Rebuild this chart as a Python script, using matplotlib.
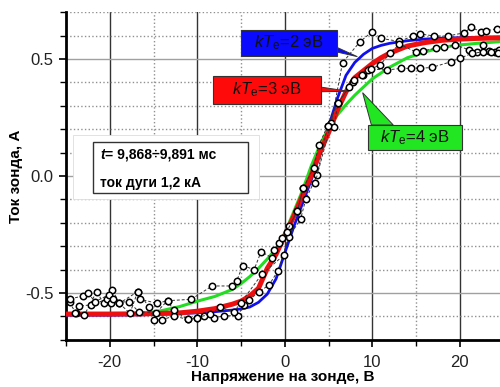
import matplotlib
matplotlib.use("Agg")
import matplotlib.pyplot as plt
from matplotlib.patches import Rectangle, Polygon
from matplotlib.ticker import MultipleLocator, FixedLocator

plt.rcParams["font.family"] = ["Liberation Sans", "DejaVu Sans"]
plt.rcParams["axes.unicode_minus"] = False
plt.rcParams["mathtext.fontset"] = "custom"
plt.rcParams["mathtext.rm"] = "Liberation Sans"
plt.rcParams["mathtext.it"] = "Liberation Sans:italic"

# model curves
x_fit = [-25, -20, -16, -14, -12, -10, -8, -6, -5, -4, -3, -2, -1, 0, 1, 2, 3, 4,
         5, 6, 7, 8, 9, 10, 11, 12, 14, 16, 18, 20, 22, 24.6]
y_kt2 = [-0.595, -0.595, -0.593, -0.591, -0.588, -0.585, -0.58, -0.573, -0.568, -0.56,
         -0.54, -0.505, -0.44, -0.33, -0.22, -0.12, -0.02, 0.09, 0.21, 0.33, 0.43, 0.485,
         0.52, 0.545, 0.558, 0.567, 0.578, 0.585, 0.589, 0.591, 0.593, 0.594]
y_kt3 = [-0.59, -0.59, -0.589, -0.587, -0.585, -0.578, -0.567, -0.548, -0.535, -0.513,
         -0.48, -0.395, -0.335, -0.255, -0.175, -0.085, 0.0, 0.1, 0.185, 0.28, 0.36, 0.42,
         0.45, 0.48, 0.505, 0.525, 0.555, 0.57, 0.58, 0.585, 0.588, 0.59]
y_kt4 = [-0.59, -0.59, -0.588, -0.575, -0.558, -0.535, -0.515, -0.485, -0.46, -0.43,
         -0.395, -0.355, -0.31, -0.245, -0.155, -0.065, 0.04, 0.13, 0.205, 0.26, 0.305,
         0.345, 0.38, 0.415, 0.44, 0.465, 0.505, 0.53, 0.55, 0.56, 0.567, 0.574]

# measured points (three sweeps)
x_a = [-24.6, -23.9, -22.9, -21.5, -20.7, -19.7, -18.9, -17.7, -16.8, -15.5, -14.9, -14.0,
       -12.7, -11.1, -10.0, -9.2, -8.1, -6.9, -5.4, -4.65, -4.1, -2.9, -1.8, -0.77, 0.5,
       1.8, 2.4, 3.7, 5.3, 6.6, 8.6, 10.0, 11.0, 13.1, 14.6, 15.5, 17.1, 18.6, 20.5, 21.3,
       22.4, 23.0, 24.3]
y_a = [-0.54, -0.584, -0.594, -0.494, -0.544, -0.487, -0.544, -0.587, -0.494, -0.56,
       -0.615, -0.615, -0.598, -0.613, -0.605, -0.60, -0.607, -0.597, -0.598, -0.551,
       -0.53, -0.494, -0.466, -0.405, -0.259, -0.185, -0.10, 0.004, 0.225, 0.484, 0.574,
       0.617, 0.588, 0.575, 0.598, 0.607, 0.598, 0.598, 0.612, 0.635, 0.617, 0.62, 0.63]

x_b = [-24.0, -23.5, -22.2, -20.3, -19.9, -17.8, -16.7, -14.7, -13.4, -12.7, -11.1, -10.0,
       -8.5, -7.4, -5.8, -5.0, -2.6, -0.08, 0.5, 1.45, 2.1, 3.5, 4.9, 5.6, 6.1, 7.85, 8.9,
       9.5, 10.9, 12.0, 13.1, 15.0, 15.8, 17.3, 18.2, 19.5, 21.0, 22.0, 22.6, 23.3, 24.0,
       24.5]
y_b = [-0.584, -0.556, -0.551, -0.527, -0.541, -0.537, -0.58, -0.584, -0.533, -0.573,
       -0.613, -0.605, -0.59, -0.561, -0.58, -0.541, -0.419, -0.338, -0.214, -0.148,
       -0.053, -0.031, 0.214, 0.21, 0.313, 0.403, 0.43, 0.453, 0.474, 0.524, 0.563, 0.53,
       0.535, 0.546, 0.55, 0.56, 0.54, 0.53, 0.56, 0.535, 0.53, 0.54]

x_c = [-24.5, -23.1, -22.5, -21.7, -20.1, -19.6, -18.9, -16.8, -16.5, -14.6, -13.4,
       -10.7, -8.3, -6.0, -5.5, -4.8, -3.5, -2.7, -1.5, -1.2, -0.65, -0.26, 0.23, 1.45,
       2.1, 3.3, 3.9, 4.9, 6.1, 7.35, 7.9, 8.8, 9.8, 11.7, 13.3, 14.4, 15.5, 16.8, 19.0,
       20.0, 21.4, 22.6, 23.6, 24.4]
y_c = [-0.525, -0.513, -0.499, -0.537, -0.508, -0.527, -0.544, -0.494, -0.527, -0.544,
       -0.533, -0.527, -0.47, -0.47, -0.449, -0.383, -0.40, -0.323, -0.349, -0.316,
       -0.285, -0.266, -0.238, -0.148, -0.053, 0.035, 0.132, 0.214, 0.313, 0.38, 0.41,
       0.43, 0.457, 0.453, 0.46, 0.46, 0.46, 0.464, 0.488, 0.503, 0.524, 0.53, 0.53, 0.525]

xticks = [-20, -10, 0, 10, 20]
yticks = [-0.5, 0.0, 0.5]
ytick_labels = ["-0.5", "0.0", "0.5"]

fig = plt.figure(figsize=(5, 3.87), dpi=100)
ax = fig.add_axes([0.132, 0.122, 0.868, 0.8465])
ax.set_xlim(-25, 24.6)
ax.set_ylim(-0.7, 0.7)

ax.xaxis.set_major_locator(FixedLocator(xticks))
ax.xaxis.set_minor_locator(MultipleLocator(5))
ax.yaxis.set_major_locator(FixedLocator(yticks))
ax.yaxis.set_minor_locator(MultipleLocator(0.1))
ax.set_yticklabels(ytick_labels)
ax.tick_params(which="major", direction="out", length=5, width=1.2, labelsize=12,
               labelcolor="#222222")
ax.tick_params(which="minor", direction="out", length=4, width=1.0)
ax.tick_params(axis="x", pad=6)
ax.tick_params(axis="y", pad=4)

ax.set_axisbelow(True)
ax.grid(True, which="major", axis="x", color="#333333", lw=1.0, ls="-")
ax.grid(True, which="major", axis="y", color="#a0a0a0", lw=1.0, ls="-")
ax.grid(True, which="minor", color="#909090", lw=1.0, ls=":")

for s in ["top", "right"]:
    ax.spines[s].set_visible(False)
for s in ["left", "bottom"]:
    ax.spines[s].set_linewidth(2)

ax.set_xlabel("Напряжение на зонде, В", fontsize=11, fontweight="bold")
ax.set_ylabel("Ток зонда, А", fontsize=11, fontweight="bold")
ax.xaxis.set_label_coords(0.5, -0.092)
ax.yaxis.set_label_coords(-0.1, 0.5)

# white panel behind the note
ax.add_patch(Rectangle((-24.2, -0.10), 21.2, 0.275, facecolor="white",
                       edgecolor="#dddddd", lw=0.6, zorder=1))

ax.plot(x_fit, y_kt2, color="#1010ee", lw=2.0, zorder=3, solid_joinstyle="round")
ax.plot(x_fit, y_kt4, color="#22dd22", lw=2.2, zorder=3.5, solid_joinstyle="round")
ax.plot(x_fit, y_kt3, color="#ee1010", lw=3.6, zorder=4, solid_joinstyle="round")

for xs, ys in [(x_a, y_a), (x_b, y_b), (x_c, y_c)]:
    ax.plot(xs, ys, color="#333333", lw=0.7, ls=(0, (3, 2)), marker="o", ms=4.6,
            mfc="white", mec="black", mew=1.1, zorder=6)

# callouts
boxes = [
    ((-5.03, 0.513), 10.97, 0.111, "#0a0aff",
     [(5.94, 0.55), (5.94, 0.53), (8.3, 0.51)], r"$kT_{\rm e}$=2 эВ"),
    ((-8.23, 0.308), 12.34, 0.119, "#ff0a0a",
     [(4.11, 0.38), (4.11, 0.36), (7.3, 0.362)], r"$kT_{\rm e}$=3 эВ"),
    ((9.49, 0.111), 10.81, 0.107, "#22e622",
     [(9.9, 0.218), (12.4, 0.218), (8.9, 0.356)], r"$kT_{\rm e}$=4 эВ"),
]
for (x0, y0), w, h, col, wedge, label in boxes:
    ax.add_patch(Polygon(wedge, closed=True, facecolor=col, edgecolor="#333333",
                         lw=0.7, zorder=8))
    ax.add_patch(Rectangle((x0, y0), w, h, facecolor=col, edgecolor="#333333",
                           lw=0.8, zorder=9))
    ax.text(x0 + w / 2, y0 + h / 2, label, ha="center", va="center", fontsize=12,
            color="#111111", zorder=10)

# note box
ax.add_patch(Rectangle((-21.9, -0.074), 17.7, 0.221, facecolor="white",
                       edgecolor="#333333", lw=1.0, zorder=9))
t1 = ax.text(-21.1, 0.09, "t", fontsize=10, fontweight="bold", style="italic",
             va="center", zorder=10)
ax.annotate("= 9,868÷9,891 мс", xy=(1, 0.5), xycoords=t1, va="center",
            fontsize=10, fontweight="bold", zorder=10)
ax.text(-21.1, -0.029, "ток дуги 1,2 кА", fontsize=10, fontweight="bold",
        va="center", zorder=10)

fig.savefig("out.png", dpi=100)
